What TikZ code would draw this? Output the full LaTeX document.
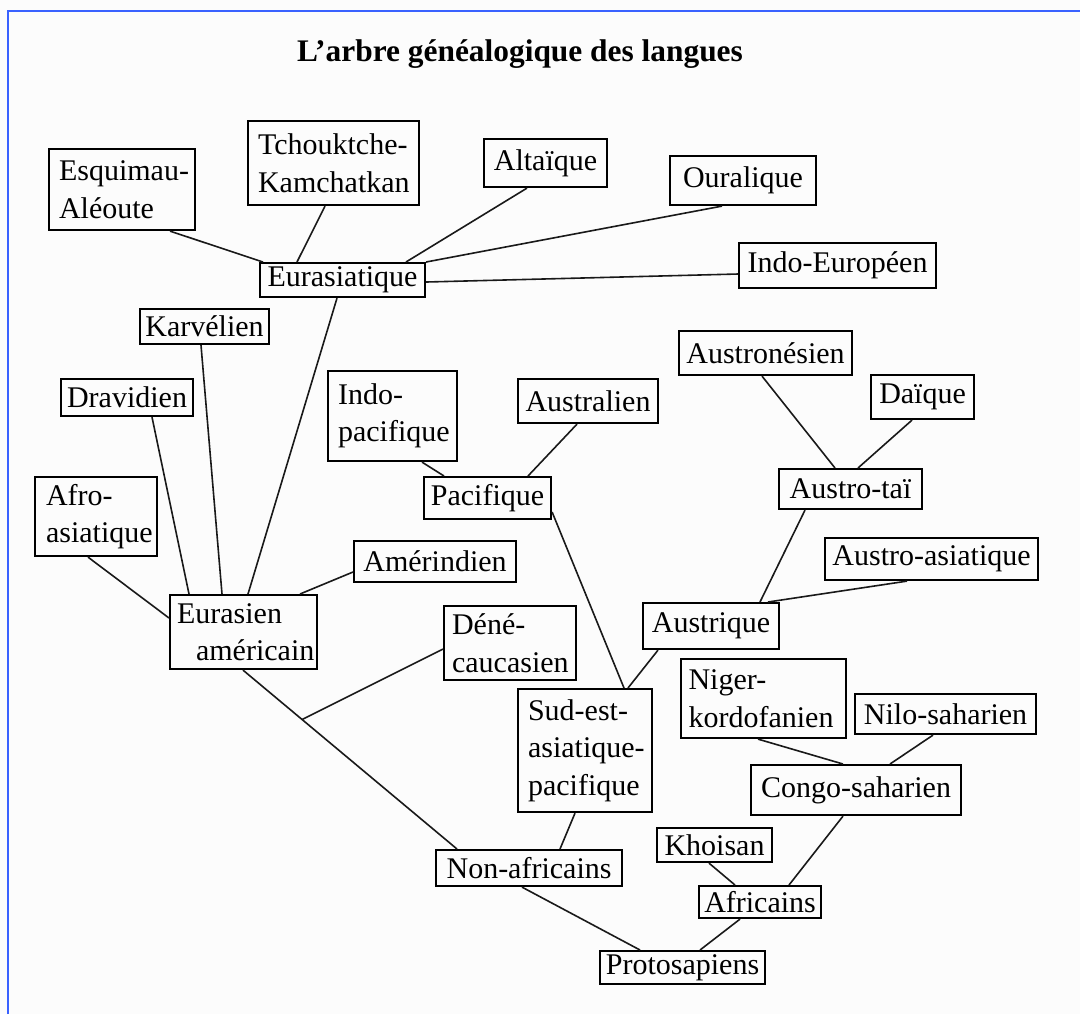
\documentclass[tikz,border=0pt]{standalone}
\usepackage{fontspec}
\setmainfont{Liberation Serif}
\usetikzlibrary{calc}
\definecolor{bluebord}{HTML}{3A62FF}
\definecolor{bgc}{HTML}{FCFCFC}
\newcommand\lblfont{\fontsize{15pt}{18.7pt}\selectfont}
\newcommand\ttlfont{\fontsize{15.7pt}{19pt}\selectfont\bfseries}
\tikzset{
  box/.style={draw=black, line width=1.05pt, rectangle, inner sep=0pt, anchor=north west,
              font=\lblfont, align=center, text=black},
  sz/.style 2 args={minimum width=#1*0.5pt, minimum height=#2*0.5pt},
  ml/.style 2 args={align=left, inner xsep=#1, text width=#2},
  link/.style={draw=black!90, line width=0.8pt},
}
\begin{document}
\begin{tikzpicture}[x=0.5pt,y=-0.5pt]
\fill[bgc] (0,0) rectangle (1080,1014);
\useasboundingbox (0,0) rectangle (1080,1014);
\draw[bluebord, line width=1.3pt] (8,1014) -- (8,11) -- (1080,11);

\node[font=\ttlfont, anchor=base, inner sep=0pt] (title) at (520,61) {L'arbre généalogique des langues};

% nodes
\node[box, sz={146}{81}, ml={5pt}{63pt}] (esq) at (48,148) {\mbox{Esquimau-}\\\mbox{Aléoute}};
\node[box, sz={171}{84}, ml={5pt}{75.5pt}] (tch) at (247,120) {\mbox{Tchouktche-}\\\mbox{Kamchatkan}};
\node[box, sz={123}{48}] (alt) at (483,138) {Altaïque};
\node[box, sz={146}{49}] (our) at (669,155) {Ouralique};
\node[box, sz={165}{34}] (eua) at (259,262) {Eurasiatique};
\node[box, sz={197}{45}] (ine) at (738,242) {Indo-Européen};
\node[box, sz={129}{35}] (kar) at (139,308) {Karvélien};
\node[box, sz={132}{37}] (dra) at (60,378) {Dravidien};
\node[box, sz={129}{90}, ml={5pt}{54.5pt}] (inp) at (327,370) {\mbox{Indo-}\\\mbox{pacifique}};
\node[box, sz={140}{44}] (aul) at (517,378) {Australien};
\node[box, sz={173}{44}] (aun) at (678,330) {Austronésien};
\node[box, sz={103}{44}] (dai) at (870,374) {Daïque};
\node[box, sz={127}{42}] (pac) at (423,476) {Pacifique};
\node[box, sz={143}{40}] (atai) at (778,468) {Austro-taï};
\node[box, sz={122}{79}, ml={5.5pt}{50pt}] (afr) at (34,476) {\mbox{Afro-}\\\mbox{asiatique}};
\node[box, sz={162}{41}] (ame) at (353,540) {Amérindien};
\node[box, sz={213}{42}] (aas) at (824,537) {Austro-asiatique};
\node[box, sz={147}{74}, ml={3.5pt}{66.5pt}] (eam) at (169,594) {\mbox{Eurasien}\\\hspace*{9.5pt}\mbox{américain}};
\node[box, sz={132}{74}, ml={4pt}{58pt}] (den) at (443,605) {\mbox{Déné-}\\\mbox{caucasien}};
\node[box, sz={136}{46}] (aus) at (642,602) {Austrique};
\node[box, sz={165}{79}, ml={3.5pt}{75pt}] (nig) at (680,658) {\mbox{Niger-}\\\mbox{kordofanien}};
\node[box, sz={181}{40}] (nil) at (854,693) {Nilo-saharien};
\node[box, sz={134}{123}, ml={5pt}{57pt}] (sud) at (517,688) {\mbox{Sud-est-}\\\mbox{asiatique-}\\\mbox{pacifique}};
\node[box, sz={210}{50}] (con) at (750,764) {Congo-saharien};
\node[box, sz={115}{34}] (kho) at (656,827) {Khoisan};
\node[box, sz={186}{36}] (naf) at (435,849) {Non-africains};
\node[box, sz={122}{32}] (afs) at (698,885) {Africains};
\node[box, sz={165}{33}] (pro) at (599,950) {Protosapiens};

% connectors
\draw[link] ($(esq.south west)+(122,0)$) -- ($(eua.north west)+(4,0)$);
\draw[link] ($(tch.south west)+(78,0)$) -- ($(eua.north west)+(38,0)$);
\draw[link] ($(alt.south west)+(44,0)$) -- ($(eua.north west)+(147,0)$);
\draw[link] ($(our.south west)+(53,0)$) -- (eua.north east);
\draw[link] ($(ine.north west)+(0,32)$) -- ($(eua.north east)+(0,20)$);
\draw[link] ($(eua.south west)+(78,0)$) -- ($(eam.north west)+(79,0)$);
\draw[link] ($(kar.south west)+(62,0)$) -- ($(eam.north west)+(53,0)$);
\draw[link] ($(dra.south west)+(92,0)$) -- ($(eam.north west)+(20,0)$);
\draw[link] ($(afr.south west)+(54,0)$) -- ($(eam.north west)+(0,24)$);
\draw[link] ($(ame.north west)+(0,32)$) -- ($(eam.north west)+(131,0)$);
\coordinate (eamb) at ($(eam.south west)+(74,0)$);
\coordinate (naft) at ($(naf.north west)+(22,0)$);
\coordinate (junc) at ($(eamb)!0.276!(naft)$);
\draw[link] (eamb) -- (naft);
\draw[link] ($(den.north west)+(0,44)$) -- (junc);
\draw[link] ($(inp.south west)+(95,0)$) -- ($(pac.north west)+(21,0)$);
\draw[link] ($(aul.south west)+(60,0)$) -- ($(pac.north west)+(105,0)$);
\draw[link] ($(pac.north east)+(0,36)$) -- ($(sud.north west)+(107,0)$);
\draw[link] ($(aus.south west)+(16,0)$) -- ($(sud.north west)+(111,0)$);
\draw[link] ($(aun.south west)+(84,0)$) -- ($(atai.north west)+(57,0)$);
\draw[link] ($(dai.south west)+(42,0)$) -- ($(atai.north west)+(80,0)$);
\draw[link] ($(atai.south west)+(27,0)$) -- ($(aus.north west)+(118,0)$);
\draw[link] ($(aas.south west)+(83,0)$) -- ($(aus.north west)+(126,0)$);
\draw[link] ($(nig.south west)+(78,0)$) -- ($(con.north west)+(93,0)$);
\draw[link] ($(nil.south west)+(79,0)$) -- ($(con.north west)+(140,0)$);
\draw[link] ($(con.south west)+(93,0)$) -- ($(afs.north west)+(91,0)$);
\draw[link] ($(kho.south west)+(53,0)$) -- ($(afs.north west)+(37,0)$);
\draw[link] ($(sud.south west)+(58,0)$) -- ($(naf.north west)+(125,0)$);
\draw[link] ($(naf.south west)+(87,0)$) -- ($(pro.north west)+(41,0)$);
\draw[link] ($(afs.south west)+(42,0)$) -- ($(pro.north west)+(101,0)$);
\end{tikzpicture}
\end{document}
